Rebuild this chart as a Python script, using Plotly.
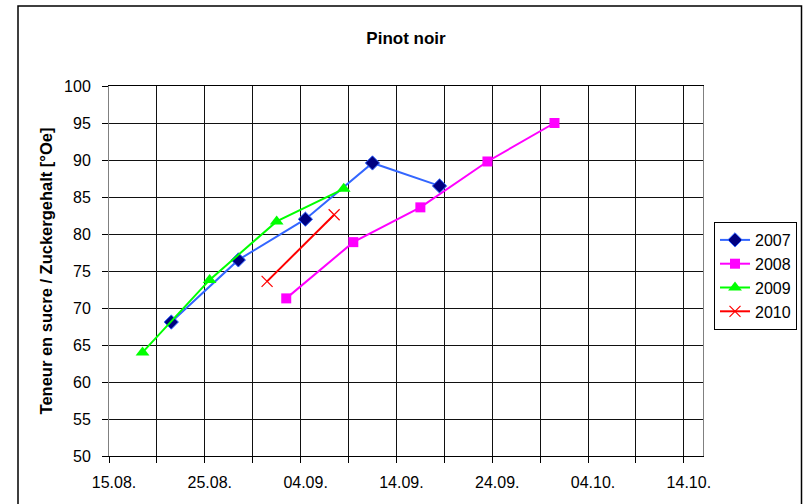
import pandas as pd
import plotly.graph_objects as go

# ---- data (day.month., plotted on a common season axis) ----
dates_2007 = ["21.08.", "28.08.", "04.09.", "11.09.", "18.09."]
vals_2007 = [68.1, 76.5, 82.0, 89.6, 86.5]

dates_2008 = ["02.09.", "09.09.", "16.09.", "23.09.", "30.09."]
vals_2008 = [71.3, 78.9, 83.6, 89.8, 95.0]

dates_2009 = ["18.08.", "25.08.", "01.09.", "08.09."]
vals_2009 = [64.0, 73.8, 81.7, 86.1]

dates_2010 = ["31.08.", "07.09."]
vals_2010 = [73.6, 82.6]

REF_YEAR = 2007


def to_dt(lst):
    # Excel places each point in the middle of its day slot
    return [pd.Timestamp(f"{REF_YEAR}-{d[3:5]}-{d[0:2]}") + pd.Timedelta(hours=12) for d in lst]


FONT = "Liberation Sans, Arial, sans-serif"

fig = go.Figure()
fig.add_trace(go.Scatter(
    x=to_dt(dates_2007), y=vals_2007, name="2007", mode="lines+markers",
    line=dict(color="#3366FF", width=2),
    marker=dict(symbol="diamond", size=11, color="#000080", line=dict(color="#3366FF", width=1)),
))
fig.add_trace(go.Scatter(
    x=to_dt(dates_2008), y=vals_2008, name="2008", mode="lines+markers",
    line=dict(color="#FF00FF", width=2),
    marker=dict(symbol="square", size=10, color="#FF00FF"),
))
fig.add_trace(go.Scatter(
    x=to_dt(dates_2009), y=vals_2009, name="2009", mode="lines+markers",
    line=dict(color="#00FF00", width=2),
    marker=dict(symbol="triangle-up", size=12, color="#00FF00"),
))
fig.add_trace(go.Scatter(
    x=to_dt(dates_2010), y=vals_2010, name="2010", mode="lines+markers",
    line=dict(color="#FF0000", width=2),
    marker=dict(symbol="x-thin", size=11, color="#FF0000", line=dict(color="#FF0000", width=1.2)),
))

W, H = 803, 504
L, R, T, B = 109, 100, 86, 48
pw, ph = W - L - R, H - T - B


def px_x(p):
    return (p - L) / pw


def px_y(p):
    return (H - B - p) / ph


fig.update_layout(
    width=W, height=H,
    margin=dict(l=L, r=R, t=T, b=B, autoexpand=False),
    paper_bgcolor="white", plot_bgcolor="white",
    font=dict(family=FONT, size=16, color="black"),
    title=dict(text="<b>Pinot noir</b>", x=0.5, xref="paper", xanchor="center",
               y=1 - 38 / H, yanchor="middle", font=dict(size=17, family=FONT)),
    showlegend=True,
    legend=dict(x=714 / W, y=1 - 222 / H, xref="container", yref="container",
                xanchor="left", yanchor="top",
                bordercolor="black", borderwidth=1, bgcolor="white",
                font=dict(size=16, family=FONT), tracegroupgap=0),
    shapes=[dict(type="rect", xref="paper", yref="paper",
                 x0=px_x(18), x1=px_x(801.5), y0=px_y(520), y1=px_y(6),
                 line=dict(color="black", width=1.5), fillcolor="rgba(0,0,0,0)", layer="below")],
)

fig.update_xaxes(
    type="date",
    range=[pd.Timestamp(f"{REF_YEAR}-08-15"), pd.Timestamp(f"{REF_YEAR}-10-16")],
    tick0=pd.Timestamp(f"{REF_YEAR}-08-15"), dtick=10 * 86400000,
    tickformat="%d.%m.",
    ticks="outside", ticklen=6, tickcolor="black",
    ticklabelshift=5, ticklabelstandoff=6,
    showgrid=True, gridcolor="#111111", gridwidth=1,
    minor=dict(dtick=5 * 86400000, tick0=pd.Timestamp(f"{REF_YEAR}-08-15"),
               showgrid=True, gridcolor="#111111", gridwidth=1,
               ticks="outside", ticklen=6, tickcolor="black"),
    showline=True, linecolor="black", linewidth=1, mirror=True,
    zeroline=False,
    tickfont=dict(size=16, family=FONT),
)
fig.update_yaxes(
    range=[50, 100], dtick=5, tick0=50,
    ticks="outside", ticklen=6, tickcolor="black",
    ticklabelstandoff=8,
    showgrid=True, gridcolor="#111111", gridwidth=1,
    showline=True, linecolor="#808080", linewidth=1, mirror=True,
    zeroline=False,
    tickfont=dict(size=16, family=FONT),
    title=dict(text="<b>Teneur en sucre / Zuckergehalt [°Oe]</b>", font=dict(size=16.5, family=FONT),
               standoff=7),
)

fig.write_html("out.html",
               config={"displayModeBar": False},
               post_script="document.body.style.margin='0';document.body.style.overflow='hidden';")
